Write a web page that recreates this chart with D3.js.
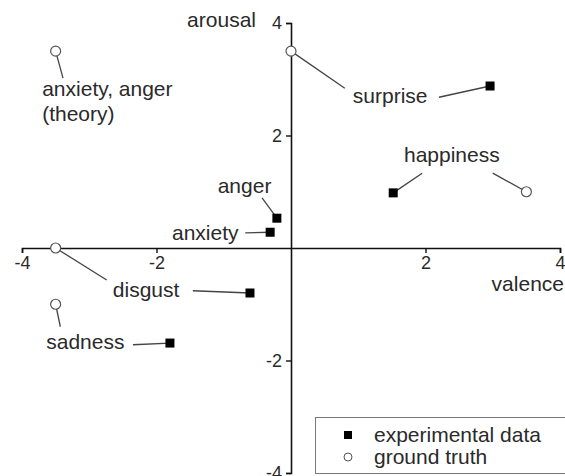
<!DOCTYPE html>
<html>
<head>
<meta charset="utf-8">
<script src="https://cdn.jsdelivr.net/npm/d3@7"></script>
<style>
  body { margin: 0; background: #fff; }
  text { font-family: "Liberation Sans", Arial, sans-serif; fill: #2a2a2a; }
</style>
</head>
<body>
<div id="chart"></div>
<script>
// experimental data (filled squares)
const expNames = ["surprise", "happiness", "anger", "anxiety", "disgust", "sadness"];
const expValence = [2.96, 1.52, -0.21, -0.31, -0.61, -1.80];
const expArousal = [2.88, 0.98, 0.53, 0.28, -0.80, -1.69];

// ground truth (open circles)
const truthNames = ["anxiety, anger (theory)", "surprise", "happiness", "disgust", "sadness"];
const truthValence = [-3.5, 0, 3.5, -3.5, -3.5];
const truthArousal = [3.5, 3.5, 1.0, 0, -1.0];

const tickValues = [-4, -2, 2, 4];
const legendLabels = ["experimental data", "ground truth"];

// label placement, in data units (x, y = text start / baseline)
const labels = [
    { lines: ["anxiety, anger", "(theory)"], x: -3.70, y: 2.71 },
    { lines: ["surprise"], x: 0.92, y: 2.58 },
    { lines: ["happiness"], x: 1.68, y: 1.53 },
    { lines: ["anger"], x: -1.09, y: 0.98 },
    { lines: ["anxiety"], x: -1.77, y: 0.14 },
    { lines: ["disgust"], x: -2.65, y: -0.87 },
    { lines: ["sadness"], x: -3.64, y: -1.80 }
];

// where each leader line ends (near its label), in data units
const expLeaderEnd = [[2.20, 2.68], [1.95, 1.33], [-0.43, 0.89], [-0.68, 0.27], [-1.46, -0.76], [-2.35, -1.72]];
const truthLeaderEnd = [[-3.39, 3.02], [0.80, 2.84], [3.0, 1.33], [-2.74, -0.57], [-3.43, -1.40]];

const width = 565, height = 476;

const x = d3.scaleLinear().domain([-4, 4]).range([22, 560]);
const y = d3.scaleLinear().domain([-4, 4]).range([473, 23]);

const svg = d3.select("#chart")
    .append("svg")
    .attr("width", width)
    .attr("height", height);

// axes through the origin
const xAxis = svg.append("g")
    .attr("transform", "translate(0," + y(0) + ")")
    .call(d3.axisBottom(x).tickValues(tickValues).tickSize(5).tickSizeOuter(5).tickPadding(3).tickFormat(d3.format("d")));

const yAxis = svg.append("g")
    .attr("transform", "translate(" + x(0) + ",0)")
    .call(d3.axisLeft(y).tickValues(tickValues).tickSize(5).tickSizeOuter(5).tickPadding(4).tickFormat(d3.format("d")));

[xAxis, yAxis].forEach(function (g) {
    g.select(".domain").attr("stroke", "#111").attr("stroke-width", 1.6);
    g.selectAll(".tick line").attr("stroke", "#111").attr("stroke-width", 1.4);
    g.selectAll(".tick text")
        .style("font-family", "'Liberation Sans', Arial, sans-serif")
        .style("font-size", "18px")
        .attr("fill", "#2a2a2a");
});
// tick labels use a plain hyphen like the original
xAxis.selectAll(".tick text").text(function (d) { return String(d); });
yAxis.selectAll(".tick text").text(function (d) { return String(d); });

svg.append("text")
    .attr("x", 564)
    .attr("y", 291)
    .attr("text-anchor", "end")
    .style("font-size", "21px")
    .text("valence");

svg.append("text")
    .attr("x", 256)
    .attr("y", 27)
    .attr("text-anchor", "end")
    .style("font-size", "21px")
    .text("arousal");

// leader lines
let leaders = svg.append("g")
    .attr("stroke", "#444")
    .attr("stroke-width", 1.3);

expValence.forEach(function (v, i) {
    leaders.append("line")
        .attr("x1", x(v)).attr("y1", y(expArousal[i]))
        .attr("x2", x(expLeaderEnd[i][0])).attr("y2", y(expLeaderEnd[i][1]));
});
truthValence.forEach(function (v, i) {
    leaders.append("line")
        .attr("x1", x(v)).attr("y1", y(truthArousal[i]))
        .attr("x2", x(truthLeaderEnd[i][0])).attr("y2", y(truthLeaderEnd[i][1]));
});

// labels
labels.forEach(function (l) {
    let t = svg.append("text")
        .attr("x", x(l.x))
        .attr("y", y(l.y))
        .style("font-size", "21px");
    l.lines.forEach(function (line, j) {
        t.append("tspan")
            .attr("x", x(l.x))
            .attr("dy", j === 0 ? 0 : 25)
            .text(line);
    });
});

// markers
svg.selectAll("circle.truth")
    .data(truthValence)
    .enter()
    .append("circle")
    .attr("class", "truth")
    .attr("cx", function (d) { return x(d); })
    .attr("cy", function (d, i) { return y(truthArousal[i]); })
    .attr("r", 5)
    .attr("fill", "#fff")
    .attr("stroke", "#555")
    .attr("stroke-width", 1.2);

svg.selectAll("rect.exp")
    .data(expValence)
    .enter()
    .append("rect")
    .attr("class", "exp")
    .attr("x", function (d) { return x(d) - 4.5; })
    .attr("y", function (d, i) { return y(expArousal[i]) - 4.5; })
    .attr("width", 9)
    .attr("height", 9)
    .attr("fill", "#000");

// legend
let legend = svg.append("g");
legend.append("rect")
    .attr("x", 315.5).attr("y", 417.5)
    .attr("width", 270).attr("height", 56)
    .attr("fill", "#fff")
    .attr("stroke", "#777")
    .attr("stroke-width", 1);

legend.append("rect")
    .attr("x", 344).attr("y", 431)
    .attr("width", 8).attr("height", 8)
    .attr("fill", "#000");
legend.append("circle")
    .attr("cx", 348).attr("cy", 457)
    .attr("r", 4)
    .attr("fill", "#fff")
    .attr("stroke", "#555")
    .attr("stroke-width", 1);

legend.selectAll("text")
    .data(legendLabels)
    .enter()
    .append("text")
    .attr("x", 374)
    .attr("y", function (d, i) { return 442 + i * 22; })
    .style("font-size", "21px")
    .text(function (d) { return d; });
</script>
</body>
</html>
